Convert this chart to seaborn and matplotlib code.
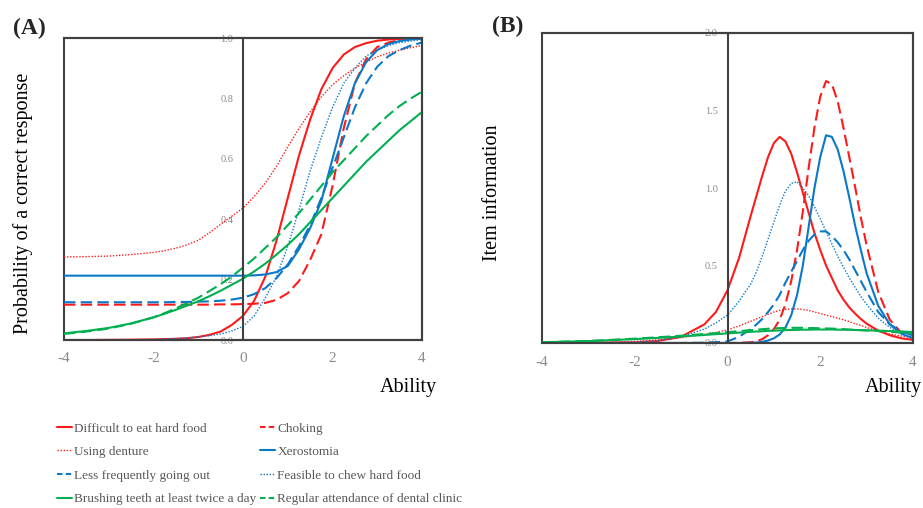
import matplotlib
matplotlib.use('Agg')
import matplotlib.pyplot as plt
from matplotlib.lines import Line2D
import seaborn as sns

# ---- data ----
items = ['Difficult to eat hard food', 'Choking', 'Using denture', 'Xerostomia',
         'Less frequently going out', 'Feasible to chew hard food',
         'Brushing teeth at least twice a day', 'Regular attendance of dental clinic']

# (A) item characteristic curves
ability_a = [-4, -3.5, -3, -2.5, -2, -1.75, -1.5, -1.25, -1, -0.75, -0.5, -0.25, 0,
             0.25, 0.5, 0.75, 1, 1.25, 1.5, 1.75, 2, 2.25, 2.5, 2.75, 3, 3.25, 3.5, 3.75, 4]
difficult_a = [0.0, 0.0, 0.0005, 0.001, 0.002, 0.003, 0.004, 0.006, 0.01, 0.017, 0.028, 0.05, 0.08,
               0.13, 0.21, 0.33, 0.47, 0.61, 0.73, 0.83, 0.9, 0.945, 0.97, 0.983, 0.991, 0.995,
               0.997, 0.999, 1.0]
choking_a = [0.117, 0.117, 0.117, 0.117, 0.117, 0.117, 0.117, 0.117, 0.117, 0.117, 0.118, 0.118,
             0.119, 0.12, 0.123, 0.133, 0.155, 0.195, 0.265, 0.35, 0.51, 0.7, 0.85, 0.93, 0.97,
             0.985, 0.993, 0.997, 0.999]
denture_a = [0.275, 0.276, 0.278, 0.283, 0.29, 0.296, 0.304, 0.315, 0.33, 0.355, 0.383, 0.41, 0.437,
             0.475, 0.52, 0.575, 0.64, 0.7, 0.755, 0.805, 0.845, 0.875, 0.9, 0.92, 0.938, 0.95,
             0.96, 0.968, 0.975]
xero_a = [0.213, 0.213, 0.213, 0.213, 0.213, 0.213, 0.213, 0.213, 0.213, 0.213, 0.213, 0.213,
          0.213, 0.214, 0.217, 0.225, 0.245, 0.3, 0.37, 0.46, 0.6, 0.74, 0.85, 0.92, 0.96, 0.98,
          0.99, 0.995, 0.998]
less_a = [0.125, 0.125, 0.125, 0.125, 0.125, 0.125, 0.126, 0.126, 0.127, 0.128, 0.13, 0.134, 0.14,
          0.152, 0.172, 0.205, 0.25, 0.31, 0.38, 0.47, 0.57, 0.67, 0.77, 0.85, 0.905, 0.94,
          0.96, 0.975, 0.985]
feasible_a = [0.0, 0.0, 0.0005, 0.001, 0.002, 0.003, 0.005, 0.007, 0.01, 0.014, 0.02, 0.03, 0.045,
              0.08, 0.14, 0.21, 0.31, 0.43, 0.56, 0.67, 0.77, 0.85, 0.9, 0.94, 0.96, 0.975,
              0.985, 0.99, 0.995]
brushing_a = [0.022, 0.03, 0.04, 0.055, 0.075, 0.087, 0.1, 0.114, 0.128, 0.145, 0.163, 0.183, 0.203,
              0.227, 0.253, 0.283, 0.315, 0.35, 0.39, 0.43, 0.47, 0.51, 0.55, 0.59, 0.625, 0.66,
              0.695, 0.725, 0.755]
regular_a = [0.02, 0.028, 0.038, 0.054, 0.075, 0.089, 0.105, 0.122, 0.14, 0.162, 0.185, 0.21, 0.24,
             0.27, 0.305, 0.34, 0.38, 0.42, 0.465, 0.51, 0.555, 0.595, 0.635, 0.675, 0.71, 0.745,
             0.775, 0.8, 0.822]

# (B) item information curves
ability_b = [-4, -3, -2, -1.5, -1, -0.5, -0.25, 0, 0.25, 0.5, 0.625, 0.75, 0.875, 1, 1.125,
             1.25, 1.375, 1.5, 1.625, 1.75, 1.875, 2, 2.125, 2.25, 2.375, 2.5, 2.625, 2.75,
             2.875, 3, 3.25, 3.5, 3.75, 4]
difficult_b = [0, 0.001, 0.004, 0.013, 0.04, 0.12, 0.2, 0.34, 0.55, 0.82, 0.95, 1.08, 1.2, 1.29,
               1.33, 1.3, 1.22, 1.1, 0.97, 0.84, 0.71, 0.6, 0.5, 0.42, 0.34, 0.28, 0.23, 0.19,
               0.155, 0.125, 0.08, 0.05, 0.03, 0.02]
choking_b = [0, 0, 0, 0, 0, 0, 0, 0, 0.001, 0.005, 0.012, 0.025, 0.05, 0.09, 0.15, 0.25, 0.4,
             0.6, 0.85, 1.13, 1.39, 1.59, 1.69, 1.67, 1.56, 1.39, 1.2, 1.01, 0.81, 0.63, 0.33,
             0.15, 0.065, 0.03]
denture_b = [0, 0.002, 0.01, 0.02, 0.035, 0.055, 0.068, 0.085, 0.11, 0.14, 0.155, 0.17, 0.185,
             0.2, 0.21, 0.217, 0.22, 0.22, 0.217, 0.21, 0.2, 0.19, 0.18, 0.17, 0.16, 0.15, 0.138,
             0.125, 0.113, 0.1, 0.078, 0.058, 0.045, 0.035]
xero_b = [0, 0, 0, 0, 0, 0, 0, 0, 0.0, 0.001, 0.003, 0.008, 0.016, 0.03, 0.055, 0.1, 0.18,
          0.31, 0.5, 0.75, 1.0, 1.2, 1.34, 1.33, 1.25, 1.11, 0.94, 0.76, 0.6, 0.45, 0.24, 0.12,
          0.06, 0.03]
less_b = [0, 0, 0, 0, 0, 0.002, 0.005, 0.01, 0.04, 0.09, 0.12, 0.155, 0.2, 0.25, 0.31, 0.39,
          0.46, 0.53, 0.6, 0.66, 0.7, 0.72, 0.72, 0.69, 0.65, 0.6, 0.54, 0.47, 0.4, 0.33, 0.2,
          0.12, 0.075, 0.05]
feasible_b = [0, 0.001, 0.005, 0.015, 0.04, 0.09, 0.13, 0.18, 0.27, 0.38, 0.46, 0.56, 0.67, 0.78,
              0.89, 0.98, 1.03, 1.04, 1.0, 0.95, 0.88, 0.8, 0.72, 0.64, 0.56, 0.49, 0.42, 0.36,
              0.3, 0.25, 0.16, 0.1, 0.06, 0.04]
brushing_b = [0.005, 0.012, 0.025, 0.033, 0.042, 0.052, 0.057, 0.062, 0.067, 0.072, 0.074, 0.076,
              0.078, 0.08, 0.081, 0.083, 0.084, 0.085, 0.086, 0.086, 0.087, 0.087, 0.087, 0.087,
              0.086, 0.086, 0.085, 0.084, 0.083, 0.082, 0.08, 0.077, 0.074, 0.071]
regular_b = [0.005, 0.013, 0.028, 0.037, 0.047, 0.058, 0.064, 0.07, 0.077, 0.083, 0.086, 0.089,
             0.092, 0.094, 0.096, 0.097, 0.098, 0.098, 0.098, 0.097, 0.096, 0.095, 0.094, 0.093,
             0.091, 0.089, 0.087, 0.085, 0.083, 0.081, 0.077, 0.072, 0.067, 0.062]

xticks = [-4, -2, 0, 2, 4]
yticks_a = [0, 0.2, 0.4, 0.6, 0.8, 1.0]
yticks_b = [0, 0.5, 1.0, 1.5, 2.0]

# ---- styling ----
RED = '#FF1A1A'
BLUE = '#0A78C8'
GREEN = '#00B050'
FRAME = '#404040'
GREY = '#8A8A8A'
DASH = (0, (5.5, 2.5))
DOT = (0, (1, 1.2))
line_style = {
    items[0]: (RED, '-', 1.5),
    items[1]: (RED, DASH, 1.5),
    items[2]: (RED, DOT, 1.0),
    items[3]: (BLUE, '-', 1.5),
    items[4]: (BLUE, DASH, 1.5),
    items[5]: (BLUE, DOT, 1.0),
    items[6]: (GREEN, '-', 1.5),
    items[7]: (GREEN, DASH, 1.5),
}

sns.set_theme(style='white')
plt.rcParams['font.family'] = ['Liberation Serif', 'DejaVu Serif']
plt.rcParams['axes.unicode_minus'] = False


def draw_panel(ax, x, curves, yticks, ylim, ylabel):
    for name, y in zip(items, curves):
        color, ls, lw = line_style[name]
        sns.lineplot(x=x, y=y, ax=ax, color=color, linestyle=ls, linewidth=lw)
    ax.set_xlim(-4, 4)
    ax.set_ylim(*ylim)
    ax.set_xticks(xticks)
    ax.set_xticklabels([str(t) for t in xticks])
    ax.set_yticks(yticks)
    ax.set_yticklabels(['%.1f' % t for t in yticks])
    # box frame + vertical axis through zero carrying the y labels
    ax.patch.set_edgecolor(FRAME)
    ax.patch.set_linewidth(1.5)
    for s in ['top', 'right', 'bottom']:
        ax.spines[s].set_color(FRAME)
        ax.spines[s].set_linewidth(1.5)
    ax.spines['left'].set_position(('data', 0))
    ax.spines['left'].set_color(FRAME)
    ax.spines['left'].set_linewidth(1.5)
    ax.tick_params(axis='y', length=0, pad=7, labelsize=7.5, labelcolor=GREY)
    ax.tick_params(axis='x', length=0, pad=9, labelsize=11, labelcolor=GREY)
    ax.set_xlabel('')
    ax.set_ylabel(ylabel, fontsize=14.5, color='black')


fig = plt.figure(figsize=(9.23, 5.08), dpi=100)
ax_a = fig.add_axes([64 / 923, 1 - 340 / 508, 358 / 923, 302 / 508])
ax_b = fig.add_axes([542 / 923, 1 - 343 / 508, 371 / 923, 310 / 508])

draw_panel(ax_a, ability_a,
           [difficult_a, choking_a, denture_a, xero_a, less_a, feasible_a, brushing_a, regular_a],
           yticks_a, (0, 1), 'Probability of a correct response')
draw_panel(ax_b, ability_b,
           [difficult_b, choking_b, denture_b, xero_b, less_b, feasible_b, brushing_b, regular_b],
           yticks_b, (0, 2), 'Item information')

ax_a.yaxis.set_label_coords(-0.087, 0.454)
ax_b.yaxis.set_label_coords(-0.108, 0.484)

ax_a.text(1.042, -0.156, 'Ability', transform=ax_a.transAxes, ha='right', va='center',
          fontsize=14.5, color='black')
ax_b.text(1.024, -0.142, 'Ability', transform=ax_b.transAxes, ha='right', va='center',
          fontsize=14.5, color='black')

fig.text(13 / 923, 1 - 28.5 / 508, '(A)', ha='left', va='center', fontsize=17, fontweight='bold')
fig.text(492 / 923, 1 - 26.5 / 508, '(B)', ha='left', va='center', fontsize=17, fontweight='bold')

# legend keys: short dashes like the original key
def key(name):
    color, ls, lw = line_style[name]
    if ls == DASH:
        ls = (0, (2.6, 1.6))
    return Line2D([], [], color=color, linestyle=ls, linewidth=lw)


col1 = [items[0], items[2], items[4], items[6]]
col2 = [items[1], items[3], items[5], items[7]]
for names, x0 in [(col1, 52 / 923), (col2, 255 / 923)]:
    fig.legend([key(n) for n in names], names, loc='upper left',
               bbox_to_anchor=(x0, 1 - 417 / 508), frameon=False, fontsize=9.5,
               handlelength=1.15, handletextpad=0.15, labelspacing=0.86,
               labelcolor='#595959', borderaxespad=0)

fig.savefig('out.png', dpi=100)
